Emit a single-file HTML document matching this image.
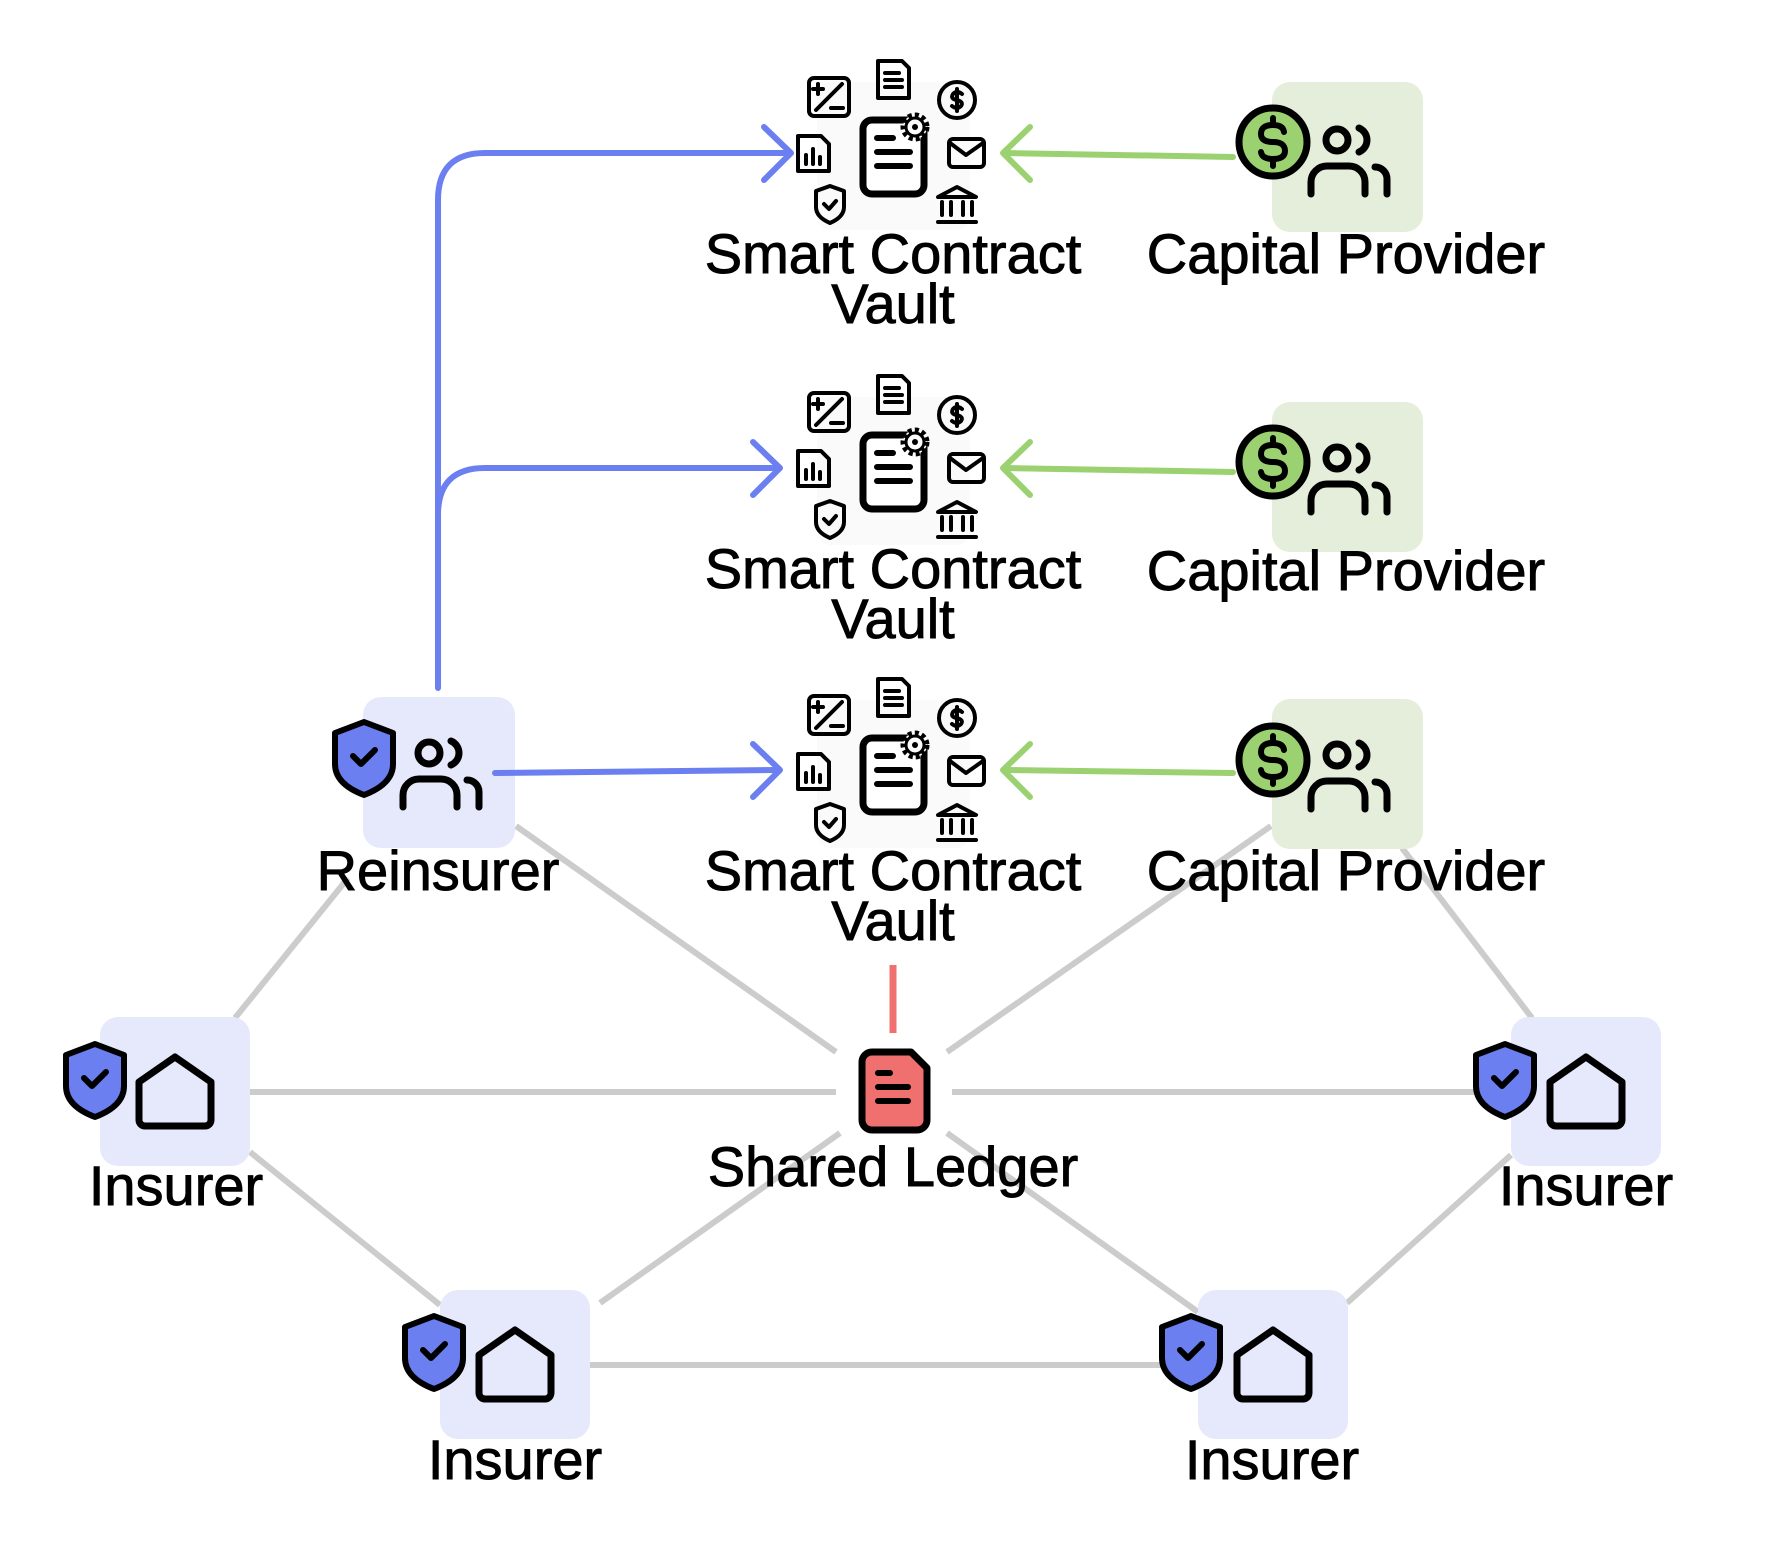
<!DOCTYPE html>
<html><head><meta charset="utf-8"><style>
html,body{margin:0;padding:0;background:#fff;}
svg{display:block;}
text{font-family:"Liberation Sans",sans-serif;font-size:56px;fill:#000;stroke:#000;stroke-width:0.9px;text-anchor:middle;}
</style></head><body>
<svg width="1778" height="1566" viewBox="0 0 1778 1566" xmlns="http://www.w3.org/2000/svg">
<defs>
<g id="shield"><path d="M0,-36 L29,-25 V6 Q29,26 0,37 Q-29,26 -29,6 V-25 Z" fill="#6b7ff0" stroke="#000" stroke-width="6" stroke-linejoin="round"/><path d="M-11,-2 L-3,6 L11,-8" fill="none" stroke="#000" stroke-width="6" stroke-linecap="round" stroke-linejoin="round"/></g>
<g id="house"><path d="M-30,36 H30 a6,6 0 0 0 6,-6 V-8 L0,-33 L-36,-8 V30 a6,6 0 0 0 6,6 Z" fill="none" stroke="#000" stroke-width="7" stroke-linejoin="round"/></g>
<g id="people" fill="none" stroke="#000" stroke-width="7" stroke-linecap="round"><circle cx="0" cy="0" r="11"/><path d="M22,-12 a13,13 0 0 1 0,24"/><path d="M-26,54 V42 a16,16 0 0 1 16,-16 H12 a16,16 0 0 1 16,16 V54"/><path d="M38,27 a12,12 0 0 1 12,12 V54"/></g>
<g id="dollar"><circle r="34" fill="#9bd170" stroke="#000" stroke-width="7"/><path d="M11,-10 Q10,-17 0,-17 Q-12,-17 -12,-8 Q-12,0 0,0 Q12,0 12,9 Q12,17 0,17 Q-11,17 -12,10 M0,-24 V-17 M0,17 V24" fill="none" stroke="#000" stroke-width="6" stroke-linecap="round"/></g>
<g id="vault">
<rect x="-76" y="-75" width="153" height="148" rx="14" fill="#fafafa"/>
<rect x="-30" y="-37" width="61" height="74" rx="9" fill="#fff" stroke="#000" stroke-width="7"/>
<path d="M-16,-19 H0 M-16,-5 H17 M-16,9 H17" stroke="#000" stroke-width="6" stroke-linecap="round"/>
<circle cx="22" cy="-30" r="12" fill="#fff" stroke="#000" stroke-width="5" stroke-dasharray="4 3"/>
<circle cx="22" cy="-30" r="9" fill="#fff" stroke="#000" stroke-width="3"/>
<circle cx="22" cy="-30" r="3" fill="#000"/>
<g fill="none" stroke="#000" stroke-width="4" stroke-linecap="round" stroke-linejoin="round">
<rect x="-84" y="-79" width="40" height="38" rx="5"/><path d="M-77,-47 L-51,-73 M-80,-68 H-70 M-75,-73 V-63 M-62,-49 H-50"/>
<path d="M-15,-96 H9 L16,-89 V-59 H-15 Z M-8,-84 H6 M-8,-77 H9 M-8,-70 H9"/>
<circle cx="64" cy="-57" r="18"/><path d="M69,-63 Q64,-67 60,-63 Q57,-58 64,-57 Q71,-55 68,-51 Q64,-47 59,-51 M64,-68 V-46"/>
<path d="M-95,-21 H-72 L-64,-13 V14 H-95 Z M-87,7 V-2 M-80,7 V-8 M-73,7 V0"/>
<rect x="56" y="-18" width="35" height="28" rx="4"/><path d="M57,-14 L73,-2 L90,-14"/>
<path d="M-63,29 L-49,34 V50 Q-49,60 -63,66 Q-77,60 -77,50 V34 Z M-69,47 L-64,52 L-57,44"/>
<path d="M45,40 L64,30 L83,40 Z M49,45 V58 M58,45 V58 M70,45 V58 M79,45 V58 M45,65 H83"/>
</g>
</g>
</defs>

<g stroke="#cccccc" stroke-width="6" stroke-linecap="butt">
<line x1="348" y1="878" x2="235" y2="1018"/>
<line x1="516" y1="826" x2="836" y2="1052"/>
<line x1="1271" y1="826" x2="947" y2="1052"/>
<line x1="1402" y1="848" x2="1532" y2="1018"/>
<line x1="250" y1="1092" x2="836" y2="1092"/>
<line x1="952" y1="1092" x2="1511" y2="1092"/>
<line x1="250" y1="1152" x2="440" y2="1305"/>
<line x1="840" y1="1133" x2="600" y2="1303"/>
<line x1="947" y1="1133" x2="1198" y2="1312"/>
<line x1="1511" y1="1155" x2="1347" y2="1303"/>
<line x1="590" y1="1365" x2="1198" y2="1365"/>
</g>
<line x1="893" y1="965" x2="893" y2="1033" stroke="#f07070" stroke-width="7"/>

<rect x="363" y="697" width="152" height="151" rx="18" fill="#e6e9fb"/>
<rect x="100" y="1017" width="150" height="149" rx="18" fill="#e6e9fb"/>
<rect x="1511" y="1017" width="150" height="149" rx="18" fill="#e6e9fb"/>
<rect x="440" y="1290" width="150" height="149" rx="18" fill="#e6e9fb"/>
<rect x="1198" y="1290" width="150" height="149" rx="18" fill="#e6e9fb"/>
<rect x="1272" y="82" width="151" height="150" rx="18" fill="#e4eedb"/>
<rect x="1272" y="402" width="151" height="150" rx="18" fill="#e4eedb"/>
<rect x="1272" y="699" width="151" height="150" rx="18" fill="#e4eedb"/>

<g fill="none" stroke="#6b7ff0" stroke-width="6" stroke-linecap="round" stroke-linejoin="round">
<path d="M438,688 V200 Q438,153 485,153 H789"/>
<path d="M764,127 L791,153 L764,180"/>
<path d="M438,515 Q438,468 485,468 H778"/>
<path d="M753,442 L780,468 L753,495"/>
<path d="M495,773 L778,770"/>
<path d="M753,744 L780,770 L753,797"/>
</g>
<g fill="none" stroke="#9bd170" stroke-width="6" stroke-linecap="round" stroke-linejoin="round">
<path d="M1233,157 L1005,153"/><path d="M1030,127 L1003,153 L1030,180"/>
<path d="M1233,472 L1005,468"/><path d="M1030,442 L1003,468 L1030,495"/>
<path d="M1233,773 L1005,770"/><path d="M1030,744 L1003,770 L1030,797"/>
</g>

<use href="#vault" x="893" y="157"/>
<use href="#vault" x="893" y="472"/>
<use href="#vault" x="893" y="775"/>

<use href="#people" x="1337" y="140"/><use href="#dollar" x="1273" y="142"/>
<use href="#people" x="1337" y="458"/><use href="#dollar" x="1273" y="462"/>
<use href="#people" x="1337" y="755"/><use href="#dollar" x="1273" y="760"/>

<use href="#people" x="429" y="753"/>
<use href="#shield" x="364" y="758"/>

<use href="#house" x="175" y="1090"/><use href="#shield" x="95" y="1080"/>
<use href="#house" x="1586" y="1090"/><use href="#shield" x="1505" y="1080"/>
<use href="#house" x="515" y="1363"/><use href="#shield" x="434" y="1352"/>
<use href="#house" x="1273" y="1363"/><use href="#shield" x="1191" y="1352"/>

<path d="M872,1052 H911 L927,1068 V1120 a10,10 0 0 1 -10,10 H872 a10,10 0 0 1 -10,-10 V1062 a10,10 0 0 1 10,-10 Z" fill="#f07070" stroke="#000" stroke-width="7" stroke-linejoin="round"/>
<path d="M878,1073 H890 M878,1087 H908 M878,1101 H908" stroke="#000" stroke-width="6" stroke-linecap="round"/>

<text x="893" y="273">Smart Contract</text><text x="893" y="323">Vault</text>
<text x="893" y="588">Smart Contract</text><text x="893" y="638">Vault</text>
<text x="893" y="890">Smart Contract</text><text x="893" y="940">Vault</text>
<text x="1346" y="273">Capital Provider</text>
<text x="1346" y="590">Capital Provider</text>
<text x="1346" y="890">Capital Provider</text>
<text x="438" y="890">Reinsurer</text>
<text x="893" y="1186">Shared Ledger</text>
<text x="176" y="1205">Insurer</text>
<text x="1586" y="1205">Insurer</text>
<text x="515" y="1479">Insurer</text>
<text x="1272" y="1479">Insurer</text>
</svg>
</body></html>
